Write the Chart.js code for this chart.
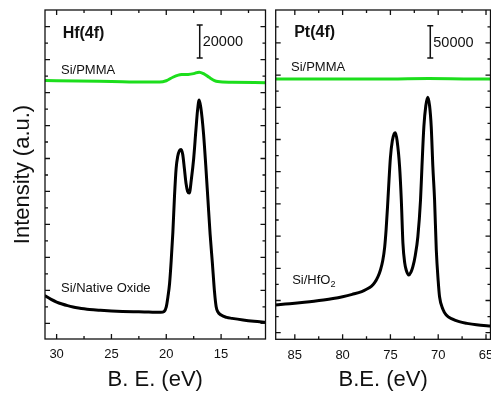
<!DOCTYPE html>
<html><head><meta charset="utf-8">
<script src="https://cdn.jsdelivr.net/npm/chart.js@4.4.0/dist/chart.umd.min.js"></script>
<style>
html,body{margin:0;padding:0;background:#fff;overflow:hidden;width:491px;height:395px;position:relative}
#c1{position:absolute;left:0;top:0;width:268px;height:395px}
#c2{position:absolute;left:268px;top:0;width:240px;height:395px}
</style></head><body>
<canvas id="c1" width="268" height="395"></canvas>
<canvas id="c2" width="240" height="395"></canvas>
<script>
const FONT = "'Liberation Sans', Arial, Helvetica, sans-serif";
const GREEN = 'rgb(28,222,28)';

// ---- Hf(4f) panel ----
const hfOxideBE = [31.1,30.5,30.0,29.5,29.0,28.5,28.0,27.5,27.0,26.0,25.0,24.0,23.0,22.0,21.0,20.5,20.2,20.0,19.85,19.7,19.55,19.4,19.25,19.1,18.95,18.8,18.65,18.5,18.35,18.2,18.05,17.9,17.7,17.5,17.3,17.15,17.0,16.85,16.6,16.4,16.2,16.0,15.8,15.6,15.45,15.3,15.0,14.5,14.0,13.0,12.0,10.9];
const hfOxideI  = [16900,14500,12900,11700,10700,9900,9300,8800,8400,7900,7500,7200,7000,6900,6700,6700,7200,10000,16000,24000,38000,55000,77000,94000,101500,104800,105500,102500,94000,85000,80000,79000,88000,100000,117000,129000,135500,131000,115000,96000,75000,54000,37000,19000,10000,7000,5000,3600,3000,2000,1200,500];
const hfPmmaBE = [31.1,28.0,25.0,22.0,20.6,20.0,19.4,18.9,18.6,18.0,17.5,17.0,16.6,16.1,15.6,15.3,14.0,10.9];
const hfPmmaI  = [147300,147000,146700,146400,146400,147200,149300,150600,150900,151000,151500,152400,151500,149300,147300,146700,146300,146000];
const hfTicks = [30,25,20,15];
const hfMinorTicks = [27.5,22.5,17.5,12.5];
const hfYStep = 20000;

// ---- Pt(4f) panel ----
const ptHfo2BE = [87.1,86,85,84,83,82,81,80,79,78,77.5,77.0,76.65,76.3,76.05,75.8,75.6,75.45,75.3,75.15,75.0,74.8,74.6,74.49,74.3,74.04,73.86,73.69,73.5,73.35,73.07,72.85,72.65,72.4,72.13,71.85,71.7,71.5,71.3,71.09,70.9,70.73,70.56,70.38,70.2,70.0,69.86,69.5,69.16,68.5,67.8,67,66,64.4];
const ptHfo2I  = [43000,44500,45800,47200,48800,50700,53000,55900,59500,63800,67400,72000,77600,87000,97000,112000,133000,160000,196000,236000,272000,298000,309000,310600,298000,257800,206000,138800,108000,97400,89600,94000,102500,120000,149000,206000,257800,319900,352000,365500,352000,319900,257800,206000,128400,80000,55900,36000,27500,21000,17100,14500,12200,10300];
const ptPmmaBE = [87.1,80,75,71,67,64.4];
const ptPmmaI  = [393800,393900,394000,394600,394000,393900];
const ptTicks = [85,80,75,70,65];
const ptMinorTicks = [82.5,77.5,72.5,67.5];
const ptYStep = 50000;

function pts(xs, ys){ return xs.map((v,i)=>({x:v, y:ys[i]})); }
function steps(lo, hi, step, off){ const a=[]; for(let v=off; v<=hi; v+=step){ if(v>=lo) a.push(v);} return a; }

const framePlugin = {
  id:'frame',
  afterDatasetsDraw(chart, args, o){
    const {ctx, chartArea:a, scales:{x,y}} = chart;
    ctx.save();
    ctx.strokeStyle='#111'; ctx.lineWidth=1.3;
    ctx.beginPath();
    const L=(x1,y1,x2,y2)=>{ctx.moveTo(x1,y1);ctx.lineTo(x2,y2);};
    o.xMajor.forEach(v=>{const p=x.getPixelForValue(v); L(p,a.bottom,p,a.bottom-5); L(p,a.top,p,a.top+5);});
    o.xMinor.forEach(v=>{const p=x.getPixelForValue(v); L(p,a.bottom,p,a.bottom-3); L(p,a.top,p,a.top+3);});
    const ys = y.min, ye = y.max;
    steps(ys, ye-2000, o.yStep, 0).forEach(v=>{const p=y.getPixelForValue(v); L(a.left,p,a.left+5,p); L(a.right,p,a.right-5,p);});
    steps(ys, ye-2000, o.yStep, o.yStep/2).forEach(v=>{const p=y.getPixelForValue(v); L(a.left,p,a.left+3,p); L(a.right,p,a.right-3,p);});
    ctx.stroke();
    ctx.strokeRect(a.left, a.top, a.right-a.left, a.bottom-a.top);
    ctx.restore();
  }
};

const notesPlugin = {
  id:'notes',
  afterDatasetsDraw(chart, args, o){
    const {ctx, scales:{x,y}} = chart;
    ctx.save();
    ctx.fillStyle='#111'; ctx.textBaseline='middle'; ctx.textAlign='left';
    o.labels.forEach(l=>{
      ctx.font = (l.bold?'bold ':'') + l.size + 'px ' + FONT;
      const px=x.getPixelForValue(l.x), py=y.getPixelForValue(l.y);
      ctx.fillText(l.text, px, py);
      if(l.sub){ const w=ctx.measureText(l.text).width; ctx.font=(l.size*0.7)+'px '+FONT; ctx.fillText(l.sub, px+w, py+4); }
    });
    const b=o.bar;
    const bx=x.getPixelForValue(b.x), y0=y.getPixelForValue(b.y0), y1=y.getPixelForValue(b.y0-b.step);
    ctx.strokeStyle='#111'; ctx.lineWidth=1.5;
    ctx.beginPath();
    ctx.moveTo(bx,y0); ctx.lineTo(bx,y1);
    ctx.moveTo(bx-3,y0); ctx.lineTo(bx+3,y0);
    ctx.moveTo(bx-3,y1); ctx.lineTo(bx+3,y1);
    ctx.stroke();
    ctx.font = b.size+'px '+FONT;
    ctx.fillText(String(b.step), bx+3, (y0+y1)/2+1);
    ctx.restore();
  }
};

function lineDs(data, color){
  return {data, borderColor:color, borderWidth:3, pointRadius:0, fill:false, cubicInterpolationMode:'monotone'};
}

function xScale(min, max, tickVals, title, h){
  return {
    type:'linear', reverse:true, min, max,
    grid:{display:false, drawTicks:false}, border:{display:false},
    afterBuildTicks: s=>{ s.ticks = tickVals.map(v=>({value:v})); },
    ticks:{font:{family:FONT,size:13}, color:'#111', padding:8, maxRotation:0, autoSkip:false},
    title:{display:true, text:title, font:{family:FONT,size:22}, color:'#111', padding:{top:0,bottom:2}},
    afterFit: s=>{ s.height = h; }
  };
}

new Chart(document.getElementById('c1'), {
  type:'line',
  data:{datasets:[ lineDs(pts(hfPmmaBE,hfPmmaI), GREEN), lineDs(pts(hfOxideBE,hfOxideI), '#000') ]},
  options:{
    responsive:false, animation:false, events:[],
    layout:{padding:{left:0,right:2.5,top:10,bottom:0}},
    plugins:{
      legend:{display:false}, tooltip:{enabled:false},
      frame:{xMajor:hfTicks, xMinor:hfMinorTicks, yStep:hfYStep},
      notes:{
        labels:[
          {text:'Hf(4f)', x:29.45, y:175500, size:16, bold:true},
          {text:'Si/PMMA', x:29.6, y:153700, size:13},
          {text:'Si/Native Oxide', x:29.6, y:21400, size:13}
        ],
        bar:{x:16.95, y0:181000, step:hfYStep, size:14.5}
      }
    },
    scales:{
      x: xScale(10.95, 31.06, hfTicks, 'B. E. (eV)', 56),
      y:{min:-9527, max:190110, ticks:{display:false}, grid:{display:false, drawTicks:false}, border:{display:false},
         title:{display:true, text:'Intensity (a.u.)', font:{family:FONT,size:22}, color:'#111', padding:{top:9.5,bottom:0}},
         afterFit: s=>{ s.width = 45; }}
    }
  },
  plugins:[framePlugin, notesPlugin]
});

new Chart(document.getElementById('c2'), {
  type:'line',
  data:{datasets:[ lineDs(pts(ptPmmaBE,ptPmmaI), GREEN), lineDs(pts(ptHfo2BE,ptHfo2I), '#000') ]},
  options:{
    responsive:false, animation:false, events:[],
    layout:{padding:{left:7.7,right:17.5,top:10,bottom:0}},
    plugins:{
      legend:{display:false}, tooltip:{enabled:false},
      frame:{xMajor:ptTicks, xMinor:ptMinorTicks, yStep:ptYStep},
      notes:{
        labels:[
          {text:'Pt(4f)', x:85.07, y:465400, size:16, bold:true},
          {text:'Si/PMMA', x:85.4, y:412600, size:13},
          {text:'Si/HfO', sub:'2', x:85.28, y:81800, size:13}
        ],
        bar:{x:70.83, y0:476700, step:ptYStep, size:14.5}
      }
    },
    scales:{
      x: xScale(64.53, 87.0, ptTicks, 'B.E. (eV)', 55.7),
      y:{display:false, min:-10250, max:501100}
    }
  },
  plugins:[framePlugin, notesPlugin]
});
</script>
</body></html>
